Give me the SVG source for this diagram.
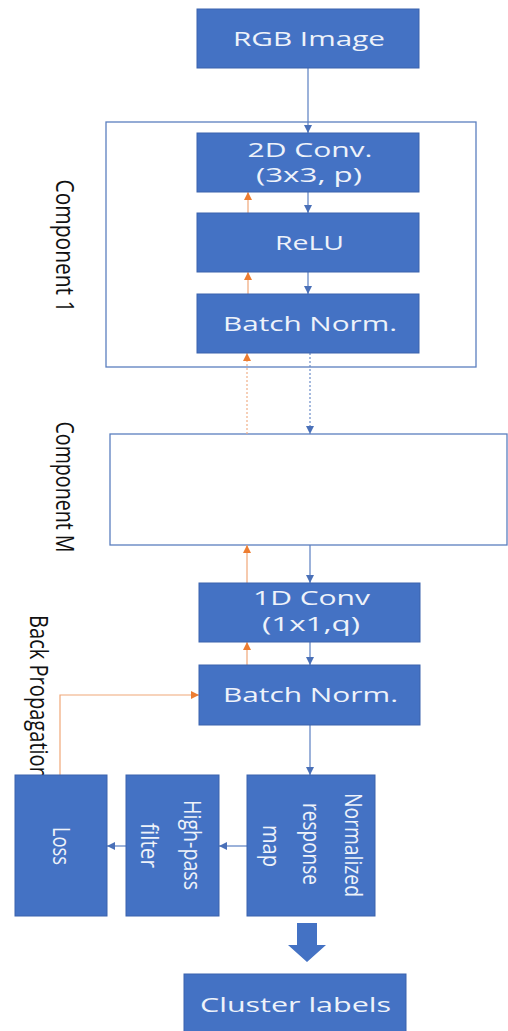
<svg xmlns="http://www.w3.org/2000/svg" width="508" height="1031" viewBox="0 0 508 1031">
<style>
.box{fill:#4472c4;stroke:#3a63ad;stroke-width:1}
.frame{fill:#ffffff;stroke:#5b7fbf;stroke-width:1.3}
.t{font-family:"Open Sans","Noto Sans","DejaVu Sans",sans-serif;font-size:20px;fill:#eef2fa;text-anchor:middle}
.rt{font-family:"Open Sans","Noto Sans","DejaVu Sans",sans-serif;font-size:24px;fill:#eef2fa;text-anchor:middle}
.lbl{font-family:"Open Sans","Noto Sans","DejaVu Sans",sans-serif;font-size:26px;fill:#111111}
.fw{fill:none;stroke:#5a7fc2;stroke-width:1.2}
.bw{fill:none;stroke:#f0a778;stroke-width:1.2}
.dotb{fill:none;stroke:#6a8cc8;stroke-width:1.2;stroke-dasharray:2 2}
.doto{fill:none;stroke:#f0b088;stroke-width:1.2;stroke-dasharray:2 2}
</style>
<defs>
<marker id="ab" viewBox="0 0 10 10" refX="10" refY="5" markerWidth="8" markerHeight="8" markerUnits="userSpaceOnUse" orient="auto"><path d="M0,0 L10,5 L0,10 z" fill="#4a70b8"/></marker>
<marker id="ao" viewBox="0 0 10 10" refX="10" refY="5" markerWidth="8" markerHeight="8" markerUnits="userSpaceOnUse" orient="auto"><path d="M0,0 L10,5 L0,10 z" fill="#ed7d31"/></marker>
</defs>
<rect x="0" y="0" width="508" height="1031" fill="#ffffff"/>

<g id="component1">
<rect class="frame" x="106" y="122" width="370" height="245"/>
<text class="lbl" transform="translate(56,246) rotate(90)" text-anchor="middle" textLength="133" lengthAdjust="spacingAndGlyphs">Component 1</text>
</g>
<g id="componentM">
<rect class="frame" x="110" y="434" width="397" height="111"/>
<text class="lbl" transform="translate(56,487) rotate(90)" text-anchor="middle" textLength="131" lengthAdjust="spacingAndGlyphs">Component M</text>
</g>
<g id="backprop-label">
<text class="lbl" transform="translate(30,615) rotate(90)" text-anchor="start" textLength="164" lengthAdjust="spacingAndGlyphs">Back Propagation</text>
</g>

<g id="connectors">
<line class="fw" x1="308" y1="68" x2="308" y2="133" marker-end="url(#ab)"/>
<line class="fw" x1="308" y1="192" x2="308" y2="213" marker-end="url(#ab)"/>
<line class="fw" x1="308" y1="272" x2="308" y2="294" marker-end="url(#ab)"/>
<line class="bw" x1="248" y1="213" x2="248" y2="192" marker-end="url(#ao)"/>
<line class="bw" x1="248" y1="294" x2="248" y2="272" marker-end="url(#ao)"/>
<line class="dotb" x1="310" y1="353" x2="310" y2="434" marker-end="url(#ab)"/>
<line class="doto" x1="247" y1="434" x2="247" y2="353" marker-end="url(#ao)"/>
<line class="fw" x1="310" y1="545" x2="310" y2="583" marker-end="url(#ab)"/>
<line class="bw" x1="247" y1="583" x2="247" y2="545" marker-end="url(#ao)"/>
<line class="fw" x1="310" y1="642" x2="310" y2="665" marker-end="url(#ab)"/>
<line class="bw" x1="247" y1="665" x2="247" y2="642" marker-end="url(#ao)"/>
<line class="fw" x1="310" y1="725" x2="310" y2="775" marker-end="url(#ab)"/>
<line class="fw" x1="247" y1="846" x2="219" y2="846" marker-end="url(#ab)"/>
<line class="fw" x1="126" y1="846" x2="107" y2="846" marker-end="url(#ab)"/>
<polyline class="bw" points="60,775 60,695 199,695" marker-end="url(#ao)"/>
<path d="M297,923 L317,923 L317,945 L326,945 L307,962 L288,945 L297,945 z" fill="#4472c4"/>
</g>

<g id="rgb">
<rect class="box" x="197" y="9" width="222" height="59"/>
<text class="t" x="309" y="46" textLength="152" lengthAdjust="spacingAndGlyphs">RGB Image</text>
</g>
<g id="conv2d">
<rect class="box" x="197" y="133" width="222" height="59"/>
<text class="t" x="310" y="157" textLength="125" lengthAdjust="spacingAndGlyphs">2D Conv.</text>
<text class="t" x="309" y="182" textLength="106" lengthAdjust="spacingAndGlyphs">(3x3, p)</text>
</g>
<g id="relu">
<rect class="box" x="197" y="213" width="222" height="59"/>
<text class="t" x="309.5" y="250" textLength="69" lengthAdjust="spacingAndGlyphs">ReLU</text>
</g>
<g id="bn1">
<rect class="box" x="197" y="294" width="222" height="59"/>
<text class="t" x="310" y="331" textLength="174" lengthAdjust="spacingAndGlyphs">Batch Norm.</text>
</g>
<g id="conv1d">
<rect class="box" x="199" y="583" width="221" height="59"/>
<text class="t" x="311.5" y="605" textLength="117" lengthAdjust="spacingAndGlyphs">1D Conv</text>
<text class="t" x="311" y="631" textLength="98" lengthAdjust="spacingAndGlyphs">(1x1,q)</text>
</g>
<g id="bn2">
<rect class="box" x="199" y="665" width="221" height="60"/>
<text class="t" x="310.5" y="702" textLength="175" lengthAdjust="spacingAndGlyphs">Batch Norm.</text>
</g>
<g id="normmap">
<rect class="box" x="247" y="775" width="128" height="141"/>
<text class="rt" transform="translate(345,845) rotate(90)" textLength="104" lengthAdjust="spacingAndGlyphs">Normalized</text>
<text class="rt" transform="translate(303,844) rotate(90)" textLength="82" lengthAdjust="spacingAndGlyphs">response</text>
<text class="rt" transform="translate(263,846) rotate(90)" textLength="42" lengthAdjust="spacingAndGlyphs">map</text>
</g>
<g id="highpass">
<rect class="box" x="126" y="775" width="93" height="141"/>
<text class="rt" transform="translate(184,845) rotate(90)" textLength="90" lengthAdjust="spacingAndGlyphs">High-pass</text>
<text class="rt" transform="translate(141,845.5) rotate(90)" textLength="45" lengthAdjust="spacingAndGlyphs">filter</text>
</g>
<g id="loss">
<rect class="box" x="15" y="775" width="92" height="141"/>
<text class="rt" transform="translate(53,846) rotate(90)" textLength="38" lengthAdjust="spacingAndGlyphs">Loss</text>
</g>
<g id="clusters">
<rect class="box" x="184" y="974" width="222" height="70"/>
<text class="t" x="295.5" y="1012" textLength="191" lengthAdjust="spacingAndGlyphs">Cluster labels</text>
</g>
</svg>
